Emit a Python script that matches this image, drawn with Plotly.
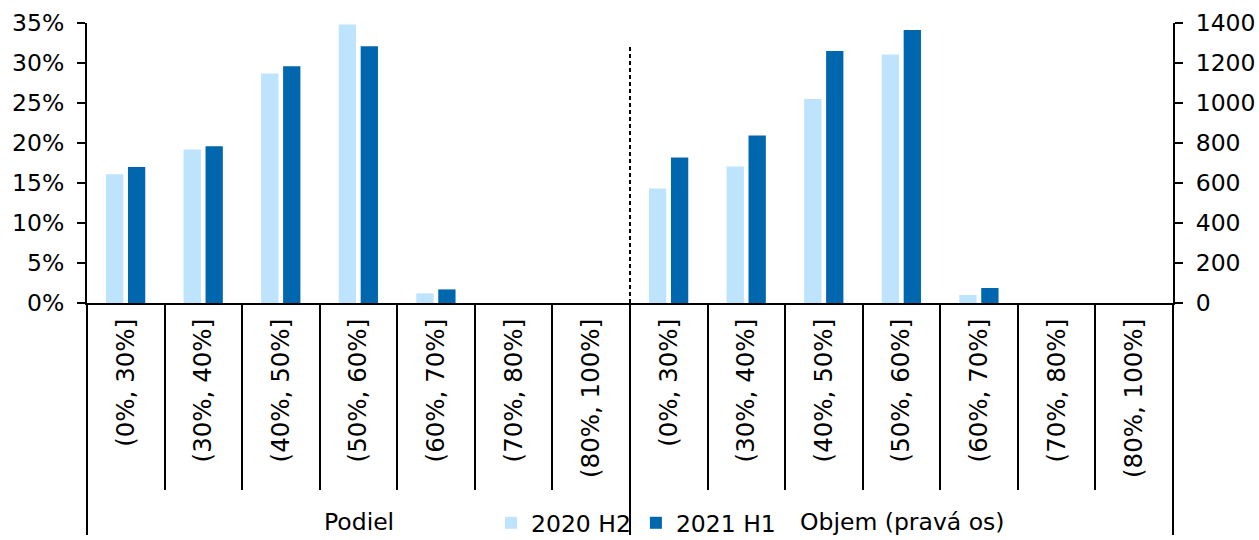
import plotly.graph_objects as go

categories = ["(0%, 30%]", "(30%, 40%]", "(40%, 50%]", "(50%, 60%]",
              "(60%, 70%]", "(70%, 80%]", "(80%, 100%]"]
groups = ["Podiel", "Objem (pravá os)"]
series_names = ["2020 H2", "2021 H1"]

podiel_2020h2 = [0.161, 0.192, 0.287, 0.348, 0.012, 0, 0]
podiel_2021h1 = [0.170, 0.196, 0.296, 0.321, 0.017, 0, 0]
objem_2020h2 = [573, 683, 1020, 1243, 40, 0, 0]
objem_2021h1 = [728, 837, 1260, 1365, 75, 0, 0]

pct_ticks = [0, 0.05, 0.10, 0.15, 0.20, 0.25, 0.30, 0.35]
vol_ticks = [0, 200, 400, 600, 800, 1000, 1200, 1400]

LIGHT = "#BDE4FC"
DARK = "#0066AD"
FONT = "DejaVu Sans"
FS = 23.5

n = len(categories)
x_pod = list(range(n))
x_obj = list(range(n, 2 * n))

fig = go.Figure()
fig.add_trace(go.Bar(x=x_pod, y=podiel_2020h2, name=series_names[0], legendgroup="a",
                     marker=dict(color=LIGHT, line=dict(width=0)), offset=-0.255, width=0.223))
fig.add_trace(go.Bar(x=x_pod, y=podiel_2021h1, name=series_names[1], legendgroup="b",
                     marker=dict(color=DARK, line=dict(width=0)), offset=0.028, width=0.223))
fig.add_trace(go.Bar(x=x_obj, y=objem_2020h2, name=series_names[0], legendgroup="a", showlegend=False,
                     marker=dict(color=LIGHT, line=dict(width=0)), offset=-0.255, width=0.223, yaxis="y2"))
fig.add_trace(go.Bar(x=x_obj, y=objem_2021h1, name=series_names[1], legendgroup="b", showlegend=False,
                     marker=dict(color=DARK, line=dict(width=0)), offset=0.028, width=0.223, yaxis="y2"))

W, H = 1259, 540
ml, mr, mt, mb = 87, 86, 23, 237
ph = H - mt - mb

def py(pix):
    return (H - mb - pix) / ph

minor_vals = [i + 0.5 for i in range(2 * n - 1) if i != n - 1]

fig.update_layout(
    width=W, height=H,
    margin=dict(l=ml, r=mr, t=mt, b=mb, autoexpand=False),
    paper_bgcolor="white", plot_bgcolor="white",
    barmode="overlay",
    font=dict(family=FONT, size=FS, color="black"),
    xaxis=dict(range=[-0.5, 2 * n - 0.5], tickmode="array", tickvals=x_pod + x_obj,
               ticktext=categories + categories, tickangle=-90, ticks="",
               tickfont=dict(family=FONT, size=24.5, color="black"),
               showline=True, linecolor="black", linewidth=2, showgrid=False, zeroline=False,
               ticklabelstandoff=4,
               minor=dict(tickmode="array", tickvals=minor_vals, ticks="outside",
                          ticklen=185, tickwidth=2, tickcolor="black", showgrid=False)),
    yaxis=dict(range=[0, 0.35], tickmode="array", tickvals=pct_ticks, tickformat=".0%",
               ticks="outside", ticklen=8, tickwidth=2, tickcolor="black",
               showline=True, linecolor="black", linewidth=2, showgrid=False, zeroline=False,
               ticklabelstandoff=8),
    yaxis2=dict(range=[0, 1400], tickmode="array", tickvals=vol_ticks, overlaying="y", side="right",
                ticks="outside", ticklen=8, tickwidth=2, tickcolor="black",
                showline=True, linecolor="black", linewidth=2, showgrid=False, zeroline=False,
                ticklabelstandoff=8),
    legend=dict(orientation="h", x=0.372, xanchor="left", y=py(523), yanchor="middle",
                font=dict(family=FONT, size=FS), bgcolor="rgba(0,0,0,0)"),
    showlegend=True,
)

# group separators / axis extensions
for xp in [0, 0.5, 1]:
    fig.add_shape(type="line", xref="paper", yref="paper", x0=xp, x1=xp, y0=0, y1=py(535),
                  line=dict(color="black", width=2))
# dashed divider inside plot
fig.add_shape(type="line", xref="paper", yref="paper", x0=0.5, x1=0.5, y0=0, y1=py(46),
              line=dict(color="black", width=2, dash="4px,3px"))

for i, g in enumerate(groups):
    fig.add_annotation(text=g, xref="paper", yref="paper", x=0.25 + 0.5 * i, y=py(522),
                       xanchor="center", yanchor="middle", showarrow=False,
                       font=dict(family=FONT, size=FS, color="black"))

fig.write_html("out.html")
